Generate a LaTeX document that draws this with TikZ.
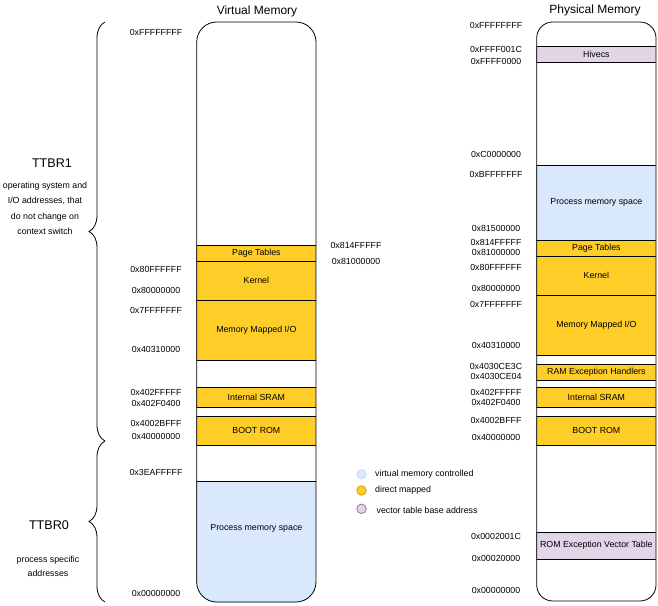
\documentclass[tikz,border=0pt]{standalone}
\usepackage{fontspec}
\setmainfont{Liberation Sans}
\usetikzlibrary{decorations.pathreplacing}
\definecolor{vmblue}{HTML}{DAE8FC}
\definecolor{vmblueline}{HTML}{C9DAF2}
\definecolor{dmyellow}{HTML}{FFCD28}
\definecolor{dmyellowline}{HTML}{D79B00}
\definecolor{vtpurple}{HTML}{E1D5E7}
\definecolor{vtpurpleline}{HTML}{9673A6}

\begin{document}
\begin{tikzpicture}[x=1pt, y=-1pt,
  every node/.style={font=\fontsize{8.8}{10.5}\selectfont, inner sep=1pt},
  seg/.style={draw=black, line width=0.8pt, minimum width=119.3pt, align=center},
  yellowseg/.style={seg, fill=dmyellow},
  blueseg/.style={seg, fill=vmblue},
  purpleseg/.style={seg, fill=vtpurple},
  memtitle/.style={font=\fontsize{12}{14}\selectfont},
  ttbr/.style={font=\fontsize{12.6}{15}\selectfont},
  membrace/.style={draw=black, line width=0.8pt, decorate, decoration={brace, amplitude=16pt}},
  legenddot/.style={circle, minimum size=9.5pt, inner sep=0pt, line width=0.8pt},
]
\useasboundingbox (0,0) rectangle (658,605);

% Titles
\node[memtitle] (vtitle) at (257,11.7) {Virtual Memory};
\node[memtitle] (ptitle) at (595,10) {Physical Memory};

% Virtual memory column
\begin{scope}
\clip[rounded corners=20pt] (196.7,22) rectangle (316,602);
\node[yellowseg, minimum height=16pt] (vpt) at (256.35,253.3) {Page Tables};
\node[yellowseg, minimum height=39pt] (vkern) at (256.35,280.8) {Kernel};
\node[yellowseg, minimum height=60pt] (vmmio) at (256.35,330.3) {Memory Mapped I/O};
\node[yellowseg, minimum height=19.7pt] (vsram) at (256.35,397.2) {Internal SRAM};
\node[yellowseg, minimum height=28.7pt] (vboot) at (256.35,430.7) {BOOT ROM};
\node[blueseg, minimum height=121pt] (vproc) at (256.35,541.8) {};
\end{scope}
\node (vproctext) at (256.35,528.3) {Process memory space};
\draw[line width=0.8pt, rounded corners=20pt] (196.7,22) rectangle (316,602);

% Physical memory column
\begin{scope}
\clip[rounded corners=16pt] (536.7,22) rectangle (656,601);
\node[purpleseg, minimum height=16pt] (phiv) at (596.35,54.3) {Hivecs};
\node[blueseg, minimum height=75pt] (pproc) at (596.35,202.8) {Process memory space};
\node[yellowseg, minimum height=16pt] (ppt) at (596.35,248.3) {Page Tables};
\node[yellowseg, minimum height=39pt] (pkern) at (596.35,275.8) {Kernel};
\node[yellowseg, minimum height=60pt] (pmmio) at (596.35,325.3) {Memory Mapped I/O};
\node[yellowseg, minimum height=15.7pt] (pram) at (596.35,372.2) {RAM Exception Handlers};
\node[yellowseg, minimum height=19.7pt] (psram) at (596.35,397.2) {Internal SRAM};
\node[yellowseg, minimum height=28.7pt] (pboot) at (596.35,430.7) {BOOT ROM};
\node[purpleseg, minimum height=26.7pt] (prom) at (596.35,545.7) {ROM Exception Vector Table};
\end{scope}
\draw[line width=0.8pt, rounded corners=16pt] (536.7,22) rectangle (656,601);

% Virtual addresses
\node (va1) at (156,32) {0xFFFFFFFF};
\node (va2) at (156,269.3) {0x80FFFFFF};
\node (va3) at (156,290) {0x80000000};
\node (va4) at (156,310) {0x7FFFFFFF};
\node (va5) at (156,349.3) {0x40310000};
\node (va6) at (156,392.7) {0x402FFFFF};
\node (va7) at (156,403.3) {0x402F0400};
\node (va8) at (156,423.3) {0x4002BFFF};
\node (va9) at (156,436.7) {0x40000000};
\node (va10) at (156,472.3) {0x3EAFFFFF};
\node (va11) at (156,593.3) {0x00000000};

% Page table addresses beside the virtual column
\node (ma1) at (356,245.7) {0x814FFFFF};
\node (ma2) at (356,261) {0x81000000};

% Physical addresses
\node (pa1) at (496,25) {0xFFFFFFFF};
\node (pa2) at (496,49) {0xFFFF001C};
\node (pa3) at (496,61.7) {0xFFFF0000};
\node (pa4) at (496,154) {0xC0000000};
\node (pa5) at (496,174) {0xBFFFFFFF};
\node (pa6) at (496,228.5) {0x81500000};
\node (pa7) at (496,242.7) {0x814FFFFF};
\node (pa8) at (496,252.3) {0x81000000};
\node (pa9) at (496,267.7) {0x80FFFFFF};
\node (pa10) at (496,288) {0x80000000};
\node (pa11) at (496,304) {0x7FFFFFFF};
\node (pa12) at (496,345) {0x40310000};
\node (pa13) at (496,366.7) {0x4030CE3C};
\node (pa14) at (496,376.7) {0x4030CE04};
\node (pa15) at (496,392.7) {0x402FFFFF};
\node (pa16) at (496,402.7) {0x402F0400};
\node (pa17) at (496,420.7) {0x4002BFFF};
\node (pa18) at (496,437.7) {0x40000000};
\node (pa19) at (496,536) {0x0002001C};
\node (pa20) at (496,558.3) {0x00020000};
\node (pa21) at (496,590.7) {0x00000000};

% Braces
\draw[membrace] (105,441) -- (105,22);
\draw[membrace] (105,602) -- (105,441);
\node[ttbr] (ttbr1) at (52,163) {TTBR1};
\node[align=center, font=\fontsize{8.8}{15.5}\selectfont] (ttbr1note) at (45,208.5)
  {operating system and\\I/O addresses, that\\do not change on\\context switch};
\node[ttbr] (ttbr0) at (49,525) {TTBR0};
\node[align=center, font=\fontsize{8.8}{13.7}\selectfont] (ttbr0note) at (48,566)
  {process specific\\addresses};

% Legend
\node[legenddot, fill=vmblue, draw=vmblueline] (ldot1) at (361.5,474.3) {};
\node[legenddot, fill=dmyellow, draw=dmyellowline] (ldot2) at (361.5,490.5) {};
\node[legenddot, fill=vtpurple, draw=vtpurpleline] (ldot3) at (361.5,508.8) {};
\node[anchor=west] (ltext1) at (374,474.3) {virtual memory controlled};
\node[anchor=west] (ltext2) at (374,490) {direct mapped};
\node[anchor=west] (ltext3) at (375.5,510) {vector table base address};

\end{tikzpicture}
\end{document}
